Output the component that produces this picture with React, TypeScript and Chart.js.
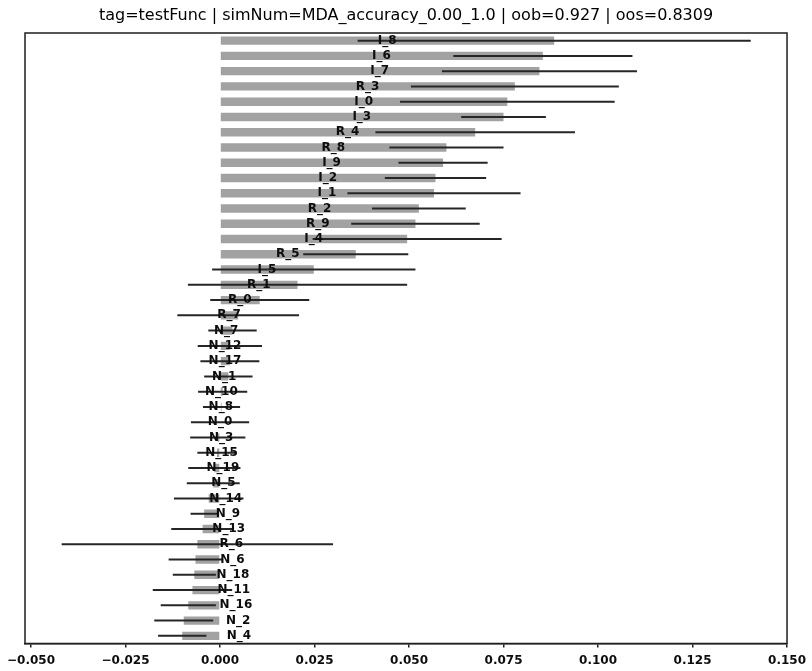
import React, { useEffect, useRef } from "react";
import { Chart, registerables } from "chart.js";

Chart.register(...registerables);

const TITLE = "tag=testFunc | simNum=MDA_accuracy_0.00_1.0 | oob=0.927 | oos=0.8309";

const FEATURES = [
  "I_8", "I_6", "I_7", "R_3", "I_0", "I_3", "R_4", "R_8", "I_9", "I_2",
  "I_1", "R_2", "R_9", "I_4", "R_5", "I_5", "R_1", "R_0", "R_7", "N_7",
  "N_12", "N_17", "N_1", "N_10", "N_8", "N_0", "N_3", "N_15", "N_19", "N_5",
  "N_14", "N_9", "N_13", "R_6", "N_6", "N_18", "N_11", "N_16", "N_2", "N_4",
];

const MEANS = [
  0.0884, 0.0854, 0.0845, 0.078, 0.076, 0.075, 0.0675, 0.0599, 0.059, 0.057,
  0.0566, 0.0526, 0.0517, 0.0495, 0.0359, 0.0248, 0.0205, 0.0105, 0.0048, 0.0033,
  0.0026, 0.0026, 0.0022, 0.0007, 0.0004, 0.0, -0.0006, -0.0008, -0.0015, -0.0018,
  -0.003, -0.0042, -0.0046, -0.006, -0.0065, -0.0068, -0.0073, -0.0084, -0.0096, -0.01,
];

const STDS = [
  0.052, 0.0237, 0.0258, 0.0275, 0.0284, 0.0112, 0.0264, 0.0151, 0.0118, 0.0134,
  0.0229, 0.0124, 0.017, 0.025, 0.0139, 0.0269, 0.029, 0.0131, 0.0161, 0.0064,
  0.0085, 0.0078, 0.0064, 0.0065, 0.0049, 0.0077, 0.0073, 0.0052, 0.0069, 0.007,
  0.0092, 0.0036, 0.0083, 0.0359, 0.0071, 0.0057, 0.0105, 0.0073, 0.0078, 0.0064,
];

const X_TICKS = [-0.05, -0.025, 0, 0.025, 0.05, 0.075, 0.1, 0.125, 0.15];
const X_MIN = -0.0516;
const X_MAX = 0.15;

const FONT = "'DejaVu Sans', Verdana, sans-serif";

const errorBarsPlugin = {
  id: "errorBars",
  afterDatasetsDraw(chart: any) {
    const ctx = chart.ctx;
    const xs = chart.scales.x;
    const meta = chart.getDatasetMeta(0);
    ctx.save();
    ctx.strokeStyle = "#262626";
    ctx.lineWidth = 2;
    meta.data.forEach((el: any, i: number) => {
      const x0 = xs.getPixelForValue(MEANS[i] - STDS[i]);
      const x1 = xs.getPixelForValue(MEANS[i] + STDS[i]);
      ctx.beginPath();
      ctx.moveTo(x0, el.y);
      ctx.lineTo(x1, el.y);
      ctx.stroke();
    });
    ctx.fillStyle = "#0d0d0d";
    ctx.font = `bold 12px ${FONT}`;
    ctx.textAlign = "center";
    ctx.textBaseline = "middle";
    meta.data.forEach((el: any, i: number) => {
      const x = xs.getPixelForValue(Math.abs(MEANS[i]) / 2);
      ctx.fillText(FEATURES[i], x, el.y);
    });
    ctx.restore();
  },
};

const framePlugin = {
  id: "frame",
  afterDraw(chart: any) {
    const { ctx, chartArea } = chart;
    ctx.save();
    ctx.strokeStyle = "#1e1e1e";
    ctx.lineWidth = 1.5;
    ctx.strokeRect(chartArea.left, chartArea.top, chartArea.right - chartArea.left, chartArea.bottom - chartArea.top);
    ctx.fillStyle = "#000";
    ctx.font = `16px ${FONT}`;
    ctx.textAlign = "center";
    ctx.textBaseline = "middle";
    ctx.fillText(TITLE, (chartArea.left + chartArea.right) / 2, 16);
    ctx.restore();
  },
};

export default function App() {
  const ref = useRef<HTMLCanvasElement | null>(null);

  useEffect(() => {
    if (!ref.current) return;
    const chart = new Chart(ref.current, {
      type: "bar",
      data: {
        labels: FEATURES,
        datasets: [
          {
            data: MEANS,
            backgroundColor: "#a2a2a2",
            borderWidth: 0,
            barPercentage: 0.55,
            categoryPercentage: 1.0,
          },
        ],
      },
      options: {
        indexAxis: "y",
        responsive: false,
        animation: false,
        layout: { padding: { top: 33, left: 25, right: 24, bottom: 0 } },
        plugins: {
          legend: { display: false },
          tooltip: { enabled: false },
          title: { display: false },
        },
        scales: {
          y: {
            type: "category",
            display: false,
            offset: true,
          },
          x: {
            type: "linear",
            min: X_MIN,
            max: X_MAX,
            afterBuildTicks: (scale: any) => {
              scale.ticks = X_TICKS.map((value) => ({ value }));
            },
            afterFit: (scale: any) => {
              scale.height = 27.5;
            },
            grid: {
              display: true,
              drawOnChartArea: false,
              drawTicks: true,
              tickLength: 4,
              color: "#1e1e1e",
              lineWidth: 1.5,
            },
            border: { display: true, color: "#1e1e1e", width: 1.5 },
            ticks: {
              color: "#0d0d0d",
              padding: 6,
              maxRotation: 0,
              autoSkip: false,
              font: { family: FONT, size: 12, weight: "bold" },
              callback: (v: any) => {
                const n = Number(v);
                const s = Math.abs(n).toFixed(3);
                return n < -1e-9 ? "\u2212" + s : s;
              },
            },
          },
        },
      },
      plugins: [errorBarsPlugin, framePlugin],
    });
    return () => chart.destroy();
  }, []);

  return (
    <div style={{ position: "absolute", left: 0, top: 0, width: 812, height: 671, background: "#fff" }}>
      <canvas ref={ref} width={812} height={671} style={{ width: 812, height: 671, display: "block" }} />
    </div>
  );
}
